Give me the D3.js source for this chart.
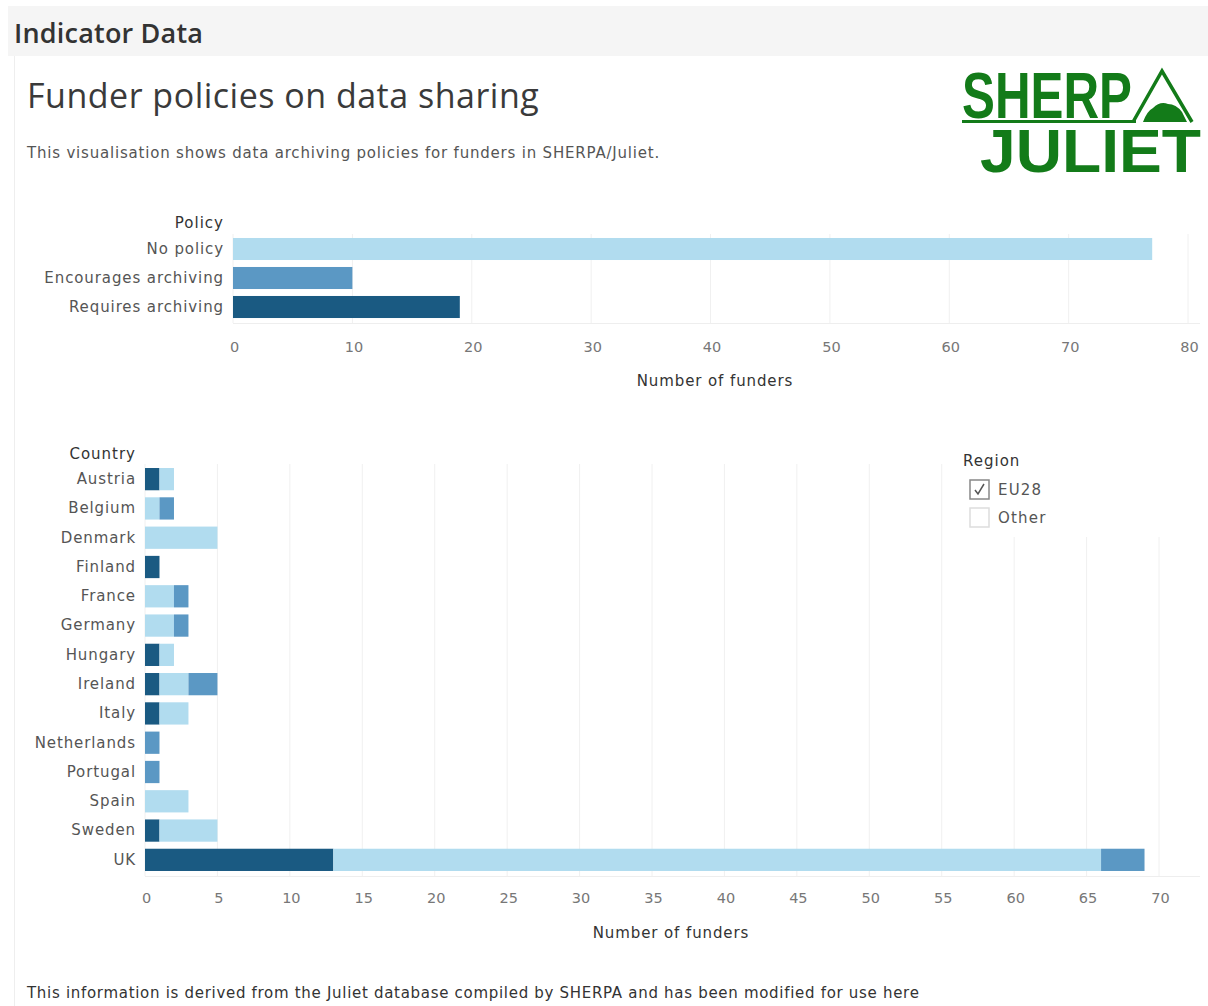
<!DOCTYPE html>
<html>
<head>
<meta charset="utf-8">
<script src="https://cdn.jsdelivr.net/npm/d3@7"></script>
<style>
  body { margin: 0; background: #fff; }
  svg { display: block; font-family: "DejaVu Sans", sans-serif; }
</style>
</head>
<body>
<svg id="chart" width="1208" height="1006"></svg>
<script>
// policy totals (top chart)
let policies = ['No policy', 'Encourages archiving', 'Requires archiving'];
let policyCounts = [77, 10, 19];
let policyTicks = [0, 10, 20, 30, 40, 50, 60, 70, 80];

// country breakdown (bottom chart), stacked in order requires / none / encourages
let countries = ['Austria', 'Belgium', 'Denmark', 'Finland', 'France', 'Germany', 'Hungary',
                 'Ireland', 'Italy', 'Netherlands', 'Portugal', 'Spain', 'Sweden', 'UK'];
let requiresArchiving = [1, 0, 0, 1, 0, 0, 1, 1, 1, 0, 0, 0, 1, 13];
let noPolicy          = [1, 1, 5, 0, 2, 2, 1, 2, 2, 0, 0, 3, 4, 53];
let encourages        = [0, 1, 0, 0, 1, 1, 0, 2, 0, 1, 1, 0, 0, 3];
let countryTicks = [0, 5, 10, 15, 20, 25, 30, 35, 40, 45, 50, 55, 60, 65, 70];

let regions = ['EU28', 'Other'];
let regionChecked = [true, false];

let colors = {
	'No policy': '#b1dcef',
	'Encourages archiving': '#5b98c4',
	'Requires archiving': '#1a5a82'
};

let svg = d3.select('#chart');

// page header + panel
svg.append('rect').attr('x', 8).attr('y', 6).attr('width', 1200).attr('height', 50).attr('fill', '#f5f5f5');
svg.append('text').attr('x', 14).attr('y', 43).attr('font-size', 27).attr('font-family', '"Open Sans", sans-serif')
	.attr('font-weight', 600).attr('letter-spacing', 0.2).attr('fill', '#333').text('Indicator Data');
svg.append('line').attr('x1', 14.5).attr('x2', 14.5).attr('y1', 56).attr('y2', 1006).attr('stroke', '#eee');

svg.append('text').attr('x', 27).attr('y', 108).attr('font-size', 34).attr('font-family', '"Open Sans", sans-serif')
	.attr('fill', '#3a3a3a').attr('letter-spacing', 0.5)
	.text('Funder policies on data sharing');
svg.append('text').attr('x', 27).attr('y', 158).attr('font-size', 15).attr('fill', '#555').attr('letter-spacing', 0.8)
	.text('This visualisation shows data archiving policies for funders in SHERPA/Juliet.');

// logo
let logo = svg.append('g').attr('fill', '#137b19');
let logoText = logo.append('text').attr('font-family', 'Liberation Sans, Arial, sans-serif').attr('font-weight', 'bold');
logoText.append('tspan').attr('x', 962).attr('y', 118).attr('font-size', 64)
	.attr('textLength', 170).attr('lengthAdjust', 'spacingAndGlyphs').text('SHERP');
logoText.append('tspan').attr('x', 980).attr('y', 172).attr('font-size', 61)
	.attr('textLength', 221).attr('lengthAdjust', 'spacingAndGlyphs').text('JULIET');
logo.append('path').attr('d', 'M1133,122 L1162,71 L1192,122').attr('fill', 'none')
	.attr('stroke', '#137b19').attr('stroke-width', 3.5).attr('stroke-linejoin', 'miter');
logo.append('path').attr('d', 'M1143,122 Q1147,111 1153,108 Q1160,101 1168,104 Q1176,104 1182,112 L1187,122 Z');
logo.append('rect').attr('x', 962).attr('y', 120).attr('width', 174).attr('height', 3);

// ---- top chart ----
let x1 = d3.scaleLinear().domain([0, 80]).range([233, 1188]);
let y1 = d3.scaleBand().domain(policies).range([234.5, 321.5]).paddingInner(0.24).paddingOuter(0.12);

let topChart = svg.append('g');
topChart.selectAll('.grid').data(policyTicks).enter().append('line')
	.attr('x1', d => x1(d)).attr('x2', d => x1(d))
	.attr('y1', 234).attr('y2', 323).attr('stroke', '#f0f0f0');
topChart.append('line').attr('x1', 233).attr('x2', 1200).attr('y1', 323.5).attr('y2', 323.5).attr('stroke', '#eee');

topChart.selectAll('rect.bar').data(policies).enter().append('rect')
	.attr('class', 'bar')
	.attr('x', x1(0))
	.attr('y', d => y1(d))
	.attr('width', (d, i) => x1(policyCounts[i]) - x1(0))
	.attr('height', y1.bandwidth())
	.attr('fill', d => colors[d]);

topChart.append('g').attr('transform', 'translate(1,323)')
	.call(d3.axisBottom(x1).tickValues(policyTicks).tickSize(0).tickPadding(19))
	.call(g => g.select('.domain').remove())
	.call(g => g.selectAll('text').attr('font-size', 14.5).attr('fill', '#777').attr('font-family', '"DejaVu Sans", sans-serif'));

topChart.append('g').attr('transform', 'translate(224,0)')
	.call(d3.axisLeft(y1).tickSize(0).tickPadding(0))
	.call(g => g.select('.domain').remove())
	.call(g => g.selectAll('text').attr('font-size', 15).attr('fill', '#555').attr('letter-spacing', 0.9)
		.attr('font-family', '"DejaVu Sans", sans-serif'));

topChart.append('text').attr('x', 224).attr('y', 228).attr('text-anchor', 'end').attr('letter-spacing', 1)
	.attr('font-size', 15).attr('fill', '#333').text('Policy');
topChart.append('text').attr('x', 715).attr('y', 386).attr('text-anchor', 'middle').attr('letter-spacing', 0.9)
	.attr('font-size', 15).attr('fill', '#333').text('Number of funders');

// ---- bottom chart ----
let x2 = d3.scaleLinear().domain([0, 70]).range([145, 1159]);
let y2 = d3.scaleBand().domain(countries).range([464.5, 874.5]).paddingInner(0.24).paddingOuter(0.12);

let rows = countries.map((c, i) => ({
	country: c,
	'Requires archiving': requiresArchiving[i],
	'No policy': noPolicy[i],
	'Encourages archiving': encourages[i]
}));
let stack = d3.stack().keys(['Requires archiving', 'No policy', 'Encourages archiving'])(rows);

let bottomChart = svg.append('g');
bottomChart.selectAll('.grid').data(countryTicks).enter().append('line')
	.attr('x1', d => x2(d)).attr('x2', d => x2(d))
	.attr('y1', 464).attr('y2', 876).attr('stroke', '#f0f0f0');
bottomChart.append('line').attr('x1', 145).attr('x2', 1200).attr('y1', 876.5).attr('y2', 876.5).attr('stroke', '#eee');

bottomChart.selectAll('g.layer').data(stack).enter().append('g')
	.attr('class', 'layer')
	.attr('fill', d => colors[d.key])
	.selectAll('rect').data(d => d).enter().append('rect')
		.attr('x', d => x2(d[0]))
		.attr('y', d => y2(d.data.country))
		.attr('width', d => x2(d[1]) - x2(d[0]))
		.attr('height', y2.bandwidth());

bottomChart.append('g').attr('transform', 'translate(1,876)')
	.call(d3.axisBottom(x2).tickValues(countryTicks).tickSize(0).tickPadding(17))
	.call(g => g.select('.domain').remove())
	.call(g => g.selectAll('text').attr('font-size', 14.5).attr('fill', '#777').attr('font-family', '"DejaVu Sans", sans-serif'));

bottomChart.append('g').attr('transform', 'translate(136,0)')
	.call(d3.axisLeft(y2).tickSize(0).tickPadding(0))
	.call(g => g.select('.domain').remove())
	.call(g => g.selectAll('text').attr('font-size', 15).attr('fill', '#555').attr('letter-spacing', 0.9)
		.attr('font-family', '"DejaVu Sans", sans-serif'));

bottomChart.append('text').attr('x', 136).attr('y', 459).attr('text-anchor', 'end').attr('letter-spacing', 1)
	.attr('font-size', 15).attr('fill', '#333').text('Country');
bottomChart.append('text').attr('x', 671).attr('y', 938).attr('text-anchor', 'middle').attr('letter-spacing', 0.9)
	.attr('font-size', 15).attr('fill', '#333').text('Number of funders');

// region legend
let legend = svg.append('g');
legend.append('rect').attr('x', 955).attr('y', 445).attr('width', 250).attr('height', 92).attr('fill', '#fff');
legend.append('text').attr('x', 963).attr('y', 466).attr('font-size', 15).attr('fill', '#333').attr('letter-spacing', 1)
	.text('Region');
let item = legend.selectAll('g.item').data(regions).enter().append('g')
	.attr('class', 'item')
	.attr('transform', (d, i) => 'translate(970,' + (480 + i * 28) + ')');
item.append('rect').attr('width', 19).attr('height', 19).attr('fill', '#fff')
	.attr('stroke', (d, i) => regionChecked[i] ? '#888' : '#ddd').attr('stroke-width', 1.5);
item.filter((d, i) => regionChecked[i]).append('path')
	.attr('d', 'M5,10 L8,14 L14,4').attr('fill', 'none').attr('stroke', '#555').attr('stroke-width', 1.5);
item.append('text').attr('x', 28).attr('y', 15).attr('font-size', 15).attr('fill', '#555').attr('letter-spacing', 1.2)
	.text(d => d);

svg.append('text').attr('x', 27).attr('y', 998).attr('font-size', 15).attr('fill', '#333').attr('letter-spacing', 0.7)
	.text('This information is derived from the Juliet database compiled by SHERPA and has been modified for use here');
</script>
</body>
</html>
